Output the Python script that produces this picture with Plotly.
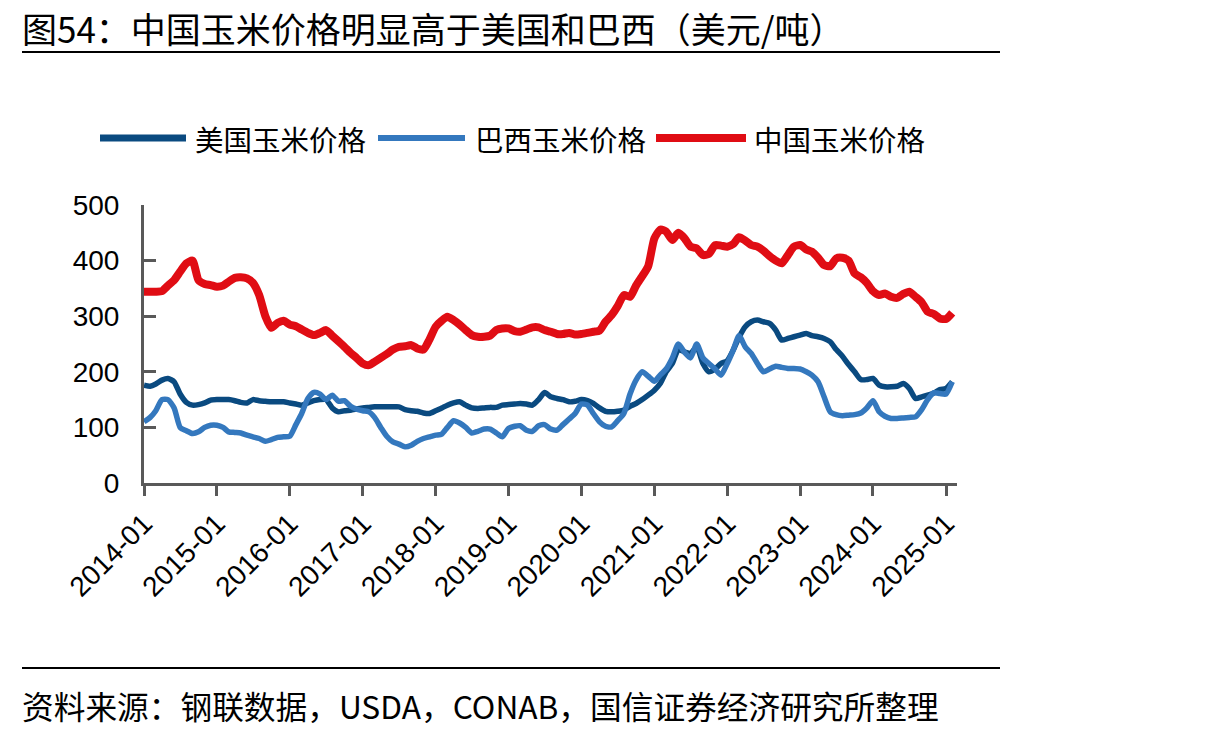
import pandas as pd
import plotly.graph_objects as go

# ---------------- data (monthly, 2014-01 .. 2025-02) ----------------
dates = pd.date_range("2014-01-01", "2025-02-01", freq="MS")

us_price = [176, 174, 178, 185, 188, 182, 160, 145, 140, 141, 144, 149,
            150, 150, 150, 148, 145, 144, 150, 148, 147, 146, 146, 146,
            144, 142, 140, 144, 148, 150, 150, 135, 128, 130, 131, 133,
            135, 136, 137, 137, 137, 137, 137, 132, 130, 129, 126, 125,
            130, 135, 140, 144, 146, 140, 135, 134, 135, 136, 136, 140,
            141, 142, 143, 142, 140, 150, 163, 155, 152, 150, 146, 147,
            150, 148, 143, 135, 129, 128, 129, 131, 138, 143, 150, 158,
            167, 180, 200, 215, 240, 236, 233, 245, 215, 200, 205, 215,
            220, 240, 262, 281, 290, 293, 290, 287, 275, 257, 260, 263,
            266, 269, 265, 263, 260, 254, 240, 228, 213, 200, 186, 186,
            188, 176, 173, 173, 174, 179, 170, 152, 155, 158, 162, 168,
            170, 182]

brazil_price = [110, 118, 130, 150, 150, 135, 100, 94, 89, 92, 100, 104,
                104, 100, 92, 91, 90, 86, 83, 80, 75, 78, 82, 83,
                84, 105, 125, 152, 163, 160, 150, 158, 147, 148, 138, 133,
                130, 128, 118, 100, 84, 74, 70, 65, 68, 75, 80, 83,
                86, 88, 100, 112, 108, 100, 90, 93, 97, 97, 90, 83,
                98, 102, 103, 95, 93, 103, 105, 97, 95, 105, 115, 125,
                142, 140, 125, 110, 102, 101, 112, 125, 160, 185, 200, 192,
                183, 195, 205, 225, 250, 235, 225, 250, 225, 215, 205, 194,
                215, 240, 265, 245, 233, 215, 200, 205, 210, 208, 206, 206,
                205, 200, 194, 182, 155, 128, 123, 121, 122, 123, 126, 135,
                148, 128, 120, 116, 116, 117, 118, 119, 132, 150, 162, 161,
                160, 182]

china_price = [344, 344, 344, 345, 355, 365, 380, 395, 400, 365, 358, 356,
               353, 355, 362, 369, 370, 368, 360, 338, 300, 279, 288, 292,
               285, 282, 276, 270, 266, 270, 275, 265, 255, 245, 234, 225,
               215, 212, 218, 225, 232, 240, 245, 246, 248, 242, 240, 258,
               281, 292, 299, 293, 285, 275, 266, 263, 263, 265, 275, 278,
               278, 273, 272, 276, 280, 280, 275, 272, 268, 268, 270, 267,
               268, 270, 272, 274, 290, 302, 318, 338, 335, 355, 372, 390,
               440, 456, 452, 437, 450, 440, 425, 422, 410, 412, 428, 427,
               425, 430, 442, 436, 428, 425, 418, 408, 400, 395, 410, 425,
               428, 420, 416, 405, 392, 390, 404, 405, 400, 377, 370, 360,
               345, 338, 341, 335, 333, 340, 344, 335, 325, 308, 304, 296,
               295, 306]

series_names = ["美国玉米价格", "巴西玉米价格", "中国玉米价格"]
tick_dates = [f"{y}-01-01" for y in range(2014, 2026)]
tick_labels = [f"{y}-01" for y in range(2014, 2026)]
y_ticks = [0, 100, 200, 300, 400, 500]

title_text = "图54：中国玉米价格明显高于美国和巴西（美元/吨）"
source_text = "资料来源：钢联数据，USDA，CONAB，国信证券经济研究所整理"

# ---------------- styling ----------------
W, H = 1215, 737
L, R, T, B = 144, 957, 205, 483
colors = ["#0A4A80", "#3478BE", "#E00D14"]
widths = [5.5, 5.5, 8]
CJK = "Noto Sans CJK SC"
AXIS_GRAY = "#595959"


def px(x):
    return (x - L) / (R - L)


def py(y):
    return (B - y) / (B - T)


fig = go.Figure()
for name, vals, c, w in zip(series_names, [us_price, brazil_price, china_price], colors, widths):
    fig.add_trace(go.Scatter(x=dates, y=vals, mode="lines", name=name,
                             line=dict(color=c, width=w, shape="spline", smoothing=0.6),
                             showlegend=False))

shapes = []
annotations = []

# title + rules
annotations.append(dict(text=title_text, x=px(20), y=py(27), xref="paper", yref="paper",
                        xanchor="left", yanchor="middle", showarrow=False,
                        font=dict(family=CJK, size=35, color="#000000")))
shapes.append(dict(type="line", xref="paper", yref="paper", x0=px(22), x1=px(1000),
                   y0=py(52), y1=py(52), line=dict(color="#000000", width=2)))
shapes.append(dict(type="line", xref="paper", yref="paper", x0=px(22), x1=px(1000),
                   y0=py(668), y1=py(668), line=dict(color="#000000", width=2)))
annotations.append(dict(text=source_text, x=px(20), y=py(705), xref="paper", yref="paper",
                        xanchor="left", yanchor="middle", showarrow=False,
                        font=dict(family=CJK, size=31.7, color="#000000")))

# legend (drawn)
leg_lines = [(100, 186), (378, 465), (656, 746)]
leg_text_x = [193, 473, 752]
leg_widths = [7, 6, 8]
for (x0, x1), tx, name, c, lw in zip(leg_lines, leg_text_x, series_names, colors, leg_widths):
    shapes.append(dict(type="line", xref="paper", yref="paper", x0=px(x0), x1=px(x1),
                       y0=py(138), y1=py(138), line=dict(color=c, width=lw)))
    annotations.append(dict(text=name, x=px(tx), y=py(139), xref="paper", yref="paper",
                            xanchor="left", yanchor="middle", showarrow=False,
                            font=dict(family=CJK, size=28.5, color="#000000")))

fig.update_layout(
    width=W, height=H,
    margin=dict(l=L, r=W - R, t=T, b=H - B, pad=0),
    paper_bgcolor="white", plot_bgcolor="white",
    shapes=shapes, annotations=annotations,
    showlegend=False,
    xaxis=dict(type="date", range=["2014-01-01", "2025-02-25"],
               tickmode="array", tickvals=tick_dates, ticktext=tick_labels,
               tickangle=-45, ticks="outside", ticklen=10, tickwidth=3, tickcolor=AXIS_GRAY,
               showline=True, linecolor=AXIS_GRAY, linewidth=3,
               showgrid=False, zeroline=False,
               tickfont=dict(family="Liberation Sans, Arial", size=28, color="#000000")),
    yaxis=dict(range=[0, 500], tickmode="array", tickvals=y_ticks,
               ticks="inside", ticklen=12, tickwidth=3, tickcolor=AXIS_GRAY,
               showline=True, linecolor=AXIS_GRAY, linewidth=3,
               showgrid=False, zeroline=False, ticklabelstandoff=16,
               tickfont=dict(family="Liberation Sans, Arial", size=28, color="#000000")),
)

fig.write_html("out.html")
